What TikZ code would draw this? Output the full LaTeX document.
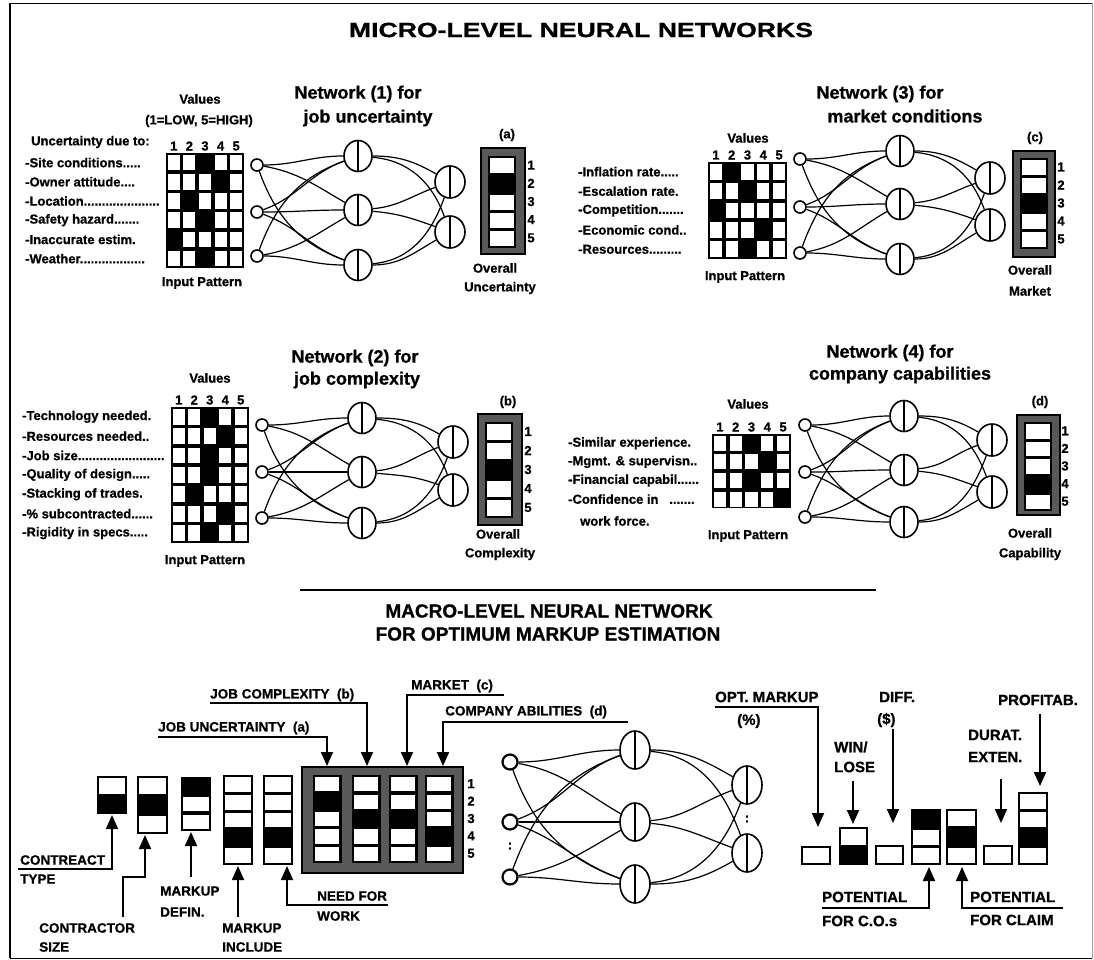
\documentclass[tikz,border=0pt]{standalone}
\usepackage{fontspec}
\setmainfont{Liberation Sans}[BoldFeatures={FakeBold=0.8}]
\usetikzlibrary{shapes.geometric,arrows.meta}

\tikzset{
 hidb/.style={ellipse, draw, line width=1.6pt, inner sep=0pt,
   path picture={\draw[line width=1.7pt] (path picture bounding box.north) -- (path picture bounding box.south);}},
 hid/.style={hidb, minimum width=28pt, minimum height=31pt},
 outn/.style={hidb, minimum width=30pt, minimum height=32pt},
 bhid/.style={hidb, minimum width=30pt, minimum height=38pt},
 inp/.style={circle, draw, line width=1.6pt, minimum size=12pt, inner sep=0pt},
 binp/.style={circle, draw, line width=2.2pt, minimum size=15pt, inner sep=0pt},
 lnk/.style={line width=1.2pt},
 lbl/.style={font=\bfseries\fontsize{13}{15}\selectfont, anchor=west, inner sep=0pt},
 ctr/.style={font=\bfseries\fontsize{13}{15}\selectfont, inner sep=0pt},
 ttl/.style={font=\bfseries\fontsize{18}{21}\selectfont, inner sep=0pt},
 big/.style={font=\bfseries\fontsize{19}{23}\selectfont, inner sep=0pt},
 bl/.style={font=\bfseries\fontsize{13.5}{16}\selectfont, anchor=west, inner sep=0pt},
 br/.style={font=\bfseries\fontsize{15}{17}\selectfont, anchor=west, inner sep=0pt},
 arr/.style={line width=1.8pt, -{Triangle[width=12pt,length=14pt]}},
 frame/.style={fill=black!65, draw=black, line width=1.2pt},
}

% vertical stack of cells: x y width cellheight n {0/1 list}
\newcommand\cellstack[6]{%
  \fill[black] (#1,#2) rectangle ++(#3,#5*#4+1);
  \foreach \cv [count=\ci from 0] in {#6} {%
    \ifnum\cv=0 \fill[white] (#1+2.4,#2+\ci*#4+2.2) rectangle ++(#3-4.8,#4-3.2);\fi
  }%
}
% input pattern grid: prefix x y cw ch {black column per row}
\newcommand\pgrid[6]{%
  \foreach \bk [count=\r from 0] in {#6} {%
    \fill[black] (#2,#3+\r*#5) rectangle ++(5*#4,#5);
    \foreach \c in {1,...,5} {%
      \ifnum\c=\bk\relax\else
        \fill[white] (#2+\c*#4-#4+1.8,#3+\r*#5+1.8) rectangle ++(#4-3.6,#5-3.6);
      \fi
    }%
  }%
  \foreach \c in {1,...,5} {\node[ctr] (#1num\c) at (#2+\c*#4-#4/2,#3-7) {\c};}
}
\newcommand\netlinks[1]{%
 \draw[lnk] (#1i1) to[out=0,in=180] (#1h1);
 \draw[lnk] (#1i1) to[out=-10,in=150] (#1h2);
 \draw[lnk] (#1i1) to[out=-70,in=160] (#1h3);
 \draw[lnk] (#1i2) to[out=20,in=200] (#1h1);
 \draw[lnk] (#1i2) to[out=0,in=180] (#1h2);
 \draw[lnk] (#1i2) to[out=-20,in=160] (#1h3);
 \draw[lnk] (#1i3) to[out=70,in=200] (#1h1);
 \draw[lnk] (#1i3) to[out=10,in=210] (#1h2);
 \draw[lnk] (#1i3) to[out=0,in=180] (#1h3);
 \draw[lnk] (#1h1) to[out=0,in=150] (#1o1);
 \draw[lnk] (#1h1) to[out=-5,in=110] (#1o2);
 \draw[lnk] (#1h2) to[out=5,in=200] (#1o1);
 \draw[lnk] (#1h2) to[out=-5,in=160] (#1o2);
 \draw[lnk] (#1h3) to[out=5,in=250] (#1o1);
 \draw[lnk] (#1h3) to[out=0,in=210] (#1o2);
}

\begin{document}
\begin{tikzpicture}[x=1pt,y=-1pt]
\useasboundingbox (0,0) rectangle (1094,960);
\fill[white] (0,0) rectangle (1094,960);
% frame
\draw[line width=0.8pt] (10,3) -- (1092,3);
\draw[line width=0.6pt, black!40] (1092,3) -- (1092,958);
\draw[line width=1pt] (10,958) -- (1092,958);
\draw[line width=2.2pt] (10,3) -- (10,958);

\node[big] (title) at (581,30) {\scalebox{1.4}[1.08]{MICRO-LEVEL NEURAL NETWORKS}};

%%%%%%%%%%%%%%%% Network 1
\node[ttl] (t1a) at (358,94) {Network (1) for};
\node[ttl] (t1b) at (368,118) {job uncertainty};
\node[ctr] (v1) at (200,99) {Values};
\node[ctr] (v1b) at (199,121) {(1=LOW, 5=HIGH)};
\node[lbl] (u1) at (31,142) {Uncertainty due to:};
\pgrid{a}{166}{153}{15.6}{19.2}{3,4,2,3,1,3}
\node[lbl] (l11) at (25,162.6) {-Site conditions.....};
\node[lbl] (l12) at (25,181.8) {-Owner attitude....};
\node[lbl] (l13) at (25,201) {-Location.....................};
\node[lbl] (l14) at (25,220.2) {-Safety hazard.......};
\node[lbl] (l15) at (25,239.4) {-Inaccurate estim.};
\node[lbl] (l16) at (25,258.6) {-Weather..................};
\node[ctr] (ip1) at (202,283) {Input Pattern};
\node[inp] (ai1) at (257,165) {};
\node[inp] (ai2) at (257,212) {};
\node[inp] (ai3) at (257,256) {};
\node[hid] (ah1) at (358,156) {};
\node[hid] (ah2) at (358,210) {};
\node[hid] (ah3) at (358,265) {};
\node[outn] (ao1) at (450,182) {};
\node[outn] (ao2) at (450,232) {};
\netlinks{a}
\draw[frame] (481,148) rectangle (525,254);
\cellstack{488}{156}{28}{18.2}{5}{0,1,0,0,0}
\foreach \k in {1,...,5} {\node[ctr] (anb\k) at (531,156+\k*18.2-9.1) {\k};}
\node[ctr] (lab-a) at (507,135) {(a)};
\node[ctr] (ov1) at (495,268) {Overall};
\node[ctr] (ov1b) at (500,288) {Uncertainty};

%%%%%%%%%%%%%%%% Network 3
\node[ttl] (t3a) at (880,94) {Network (3) for};
\node[ttl] (t3b) at (905,116) {market conditions};
\node[ctr] (v3) at (748,138) {Values};
\pgrid{c}{708}{162}{15.8}{19.4}{2,3,1,4,3}
\node[lbl] (l31) at (578,171.7) {-Inflation rate.....};
\node[lbl] (l32) at (578,191.1) {-Escalation rate.};
\node[lbl] (l33) at (578,210.5) {-Competition.......};
\node[lbl] (l34) at (578,229.9) {-Economic cond..};
\node[lbl] (l35) at (578,249.3) {-Resources.........};
\node[ctr] (ip3) at (745,277) {Input Pattern};
\node[inp] (ci1) at (800,159) {};
\node[inp] (ci2) at (800,207) {};
\node[inp] (ci3) at (800,253) {};
\node[hid] (ch1) at (900,151) {};
\node[hid] (ch2) at (900,204) {};
\node[hid] (ch3) at (900,259) {};
\node[outn] (co1) at (990,178) {};
\node[outn] (co2) at (990,225) {};
\netlinks{c}
\draw[frame] (1013,151) rectangle (1055,257);
\cellstack{1020}{158}{28}{18}{5}{0,0,1,0,0}
\foreach \k in {1,...,5} {\node[ctr] (cnb\k) at (1061,158+\k*18-9) {\k};}
\node[ctr] (lab-c) at (1035,138) {(c)};
\node[ctr] (ov3) at (1030,270) {Overall};
\node[ctr] (ov3b) at (1030,291) {Market};

%%%%%%%%%%%%%%%% Network 2
\node[ttl] (t2a) at (355,358) {Network (2) for};
\node[ttl] (t2b) at (357,380) {job complexity};
\node[ctr] (v2) at (210,378) {Values};
\pgrid{b}{171}{407}{15.5}{19.4}{3,4,3,3,2,4,3}
\node[lbl] (l21) at (22,416.7) {-Technology needed.};
\node[lbl] (l22) at (22,436.1) {-Resources needed..};
\node[lbl] (l23) at (22,455.5) {-Job size........................};
\node[lbl] (l24) at (22,474.9) {-Quality of design.....};
\node[lbl] (l25) at (22,494.3) {-Stacking of trades.};
\node[lbl] (l26) at (22,513.7) {-\% subcontracted......};
\node[lbl] (l27) at (22,533.1) {-Rigidity in specs.....};
\node[ctr] (ip2) at (205,561) {Input Pattern};
\node[inp] (bi1) at (262,425) {};
\node[inp] (bi2) at (262,472) {};
\node[inp] (bi3) at (262,518) {};
\node[hid] (bh1) at (362,418) {};
\node[hid] (bh2) at (362,472) {};
\node[hid] (bh3) at (362,523) {};
\node[outn] (bo1) at (453,442) {};
\node[outn] (bo2) at (453,490) {};
\netlinks{b}
\draw[frame] (478,414) rectangle (522,525);
\cellstack{485}{422}{28}{19}{5}{0,0,1,0,0}
\foreach \k in {1,...,5} {\node[ctr] (bnb\k) at (528,422+\k*19-9.5) {\k};}
\node[ctr] (lab-b) at (508,402) {(b)};
\node[ctr] (ov2) at (498,534) {Overall};
\node[ctr] (ov2b) at (500,554) {Complexity};

%%%%%%%%%%%%%%%% Network 4
\node[ttl] (t4a) at (890,353) {Network (4) for};
\node[ttl] (t4b) at (900,375) {company capabilities};
\node[ctr] (v4) at (748,404) {Values};
\pgrid{d}{712}{434}{15.8}{18.6}{3,4,3,5}
\node[lbl] (l41) at (568,443.3) {-Similar experience.};
\node[lbl] (l42) at (568,461.9) {-Mgmt. \& supervisn..};
\node[lbl] (l43) at (568,480.5) {-Financial capabil......};
\node[lbl] (l44) at (568,499.1) {-Confidence in \ \ .......};
\node[lbl] (l45) at (580,521) {work force.};
\node[ctr] (ip4) at (748,536) {Input Pattern};
\node[inp] (di1) at (805,425) {};
\node[inp] (di2) at (805,472) {};
\node[inp] (di3) at (805,517) {};
\node[hid] (dh1) at (904,416) {};
\node[hid] (dh2) at (904,470) {};
\node[hid] (dh3) at (904,522) {};
\node[outn] (do1) at (992,440) {};
\node[outn] (do2) at (992,492) {};
\netlinks{d}
\draw[frame] (1017,415) rectangle (1060,515);
\cellstack{1024}{422}{28}{17.6}{5}{0,0,0,1,0}
\foreach \k in {1,...,5} {\node[ctr] (dnb\k) at (1065,422+\k*17.6-8.8) {\k};}
\node[ctr] (lab-d) at (1040,402) {(d)};
\node[ctr] (ov4) at (1030,533) {Overall};
\node[ctr] (ov4b) at (1030,554) {Capability};

%%%%%%%%%%%%%%%% Macro level
\draw[line width=1.2pt] (300,590) -- (876,590);
\node[big] (mt1) at (549,611) {MACRO-LEVEL NEURAL NETWORK};
\node[big] (mt2) at (548,634) {FOR OPTIMUM MARKUP ESTIMATION};

% small input boxes
\cellstack{97}{776}{30}{18.5}{2}{0,1}
\cellstack{137}{776}{31}{19}{3}{0,1,0}
\cellstack{181}{777}{30}{17.7}{3}{1,0,0}
\cellstack{223}{775}{30}{17.8}{5}{0,0,0,1,0}
\cellstack{263}{775}{30}{17.8}{5}{0,0,0,1,0}
\coordinate (bxA) at (112,815);
\coordinate (bxB) at (145,835);
\coordinate (bxC) at (191,832);
\coordinate (bxD) at (238,866);
\coordinate (bxE) at (287,866);

\node[bl] (ctA) at (20,860) {CONTREACT};
\node[bl] (ctA2) at (20,879) {TYPE};
\coordinate (cA) at (18,869);
\draw[arr] (cA) -- (112,869) -- (bxA);
\node[bl] (ctB) at (39,928) {CONTRACTOR};
\node[bl] (ctB2) at (39,947) {SIZE};
\coordinate (cB) at (123,917);
\draw[arr] (cB) -- (123,877) -- (145,877) -- (bxB);
\node[bl] (ctC) at (160,891) {MARKUP};
\node[bl] (ctC2) at (160,912) {DEFIN.};
\coordinate (cC) at (191,877);
\draw[arr] (cC) -- (bxC);
\node[bl] (ctD) at (222,928) {MARKUP};
\node[bl] (ctD2) at (222,947) {INCLUDE};
\coordinate (cD) at (238,917);
\draw[arr] (cD) -- (bxD);
\node[bl] (ctE) at (317,896) {NEED FOR};
\node[bl] (ctE2) at (317,916) {WORK};
\coordinate (cE) at (388,905);
\draw[arr] (cE) -- (287,905) -- (bxE);

% big combined box
\draw[frame] (302,767) rectangle (463,873);
\cellstack{313}{775}{28.5}{17.4}{5}{0,1,0,0,0}
\cellstack{352}{775}{28.5}{17.4}{5}{0,0,1,0,0}
\cellstack{389}{775}{28.5}{17.4}{5}{0,0,1,0,0}
\cellstack{425}{775}{28.5}{17.4}{5}{0,0,0,1,0}
\foreach \k in {1,...,5} {\node[ctr] (mnb\k) at (471,775+\k*17.4-8.7) {\k};}
\coordinate (col1) at (327,766);
\coordinate (col2) at (367,766);
\coordinate (col3) at (407,766);
\coordinate (col4) at (443,766);

\node[bl] (ju) at (158,728) {JOB UNCERTAINTY \ (a)};
\coordinate (cju) at (158,737);
\draw[arr] (cju) -- (327,737) -- (col1);
\node[bl] (jc) at (210,695) {JOB COMPLEXITY \ (b)};
\coordinate (cjc) at (210,703);
\draw[arr] (cjc) -- (367,703) -- (col2);
\node[bl] (mk) at (411,686) {MARKET \ (c)};
\coordinate (cmk) at (504,695);
\draw[arr] (cmk) -- (407,695) -- (col3);
\node[bl] (ca) at (445,712) {COMPANY ABILITIES \ (d)};
\coordinate (cca) at (628,722);
\draw[arr] (cca) -- (443,722) -- (col4);

% macro network
\node[binp] (mi1) at (510,762) {};
\node[binp] (mi2) at (510,822) {};
\node[binp] (mi3) at (510,877) {};
\node[ctr] (mdots1) at (510,846) {:};
\node[bhid] (mh1) at (635,750) {};
\node[bhid] (mh2) at (635,822) {};
\node[bhid] (mh3) at (635,884) {};
\node[bhid] (mo1) at (747,785) {};
\node[bhid] (mo2) at (747,853) {};
\node[ctr] (mdots2) at (747,819) {:};
\netlinks{m}

% output boxes
\cellstack{801}{846}{30}{18}{1}{0}
\cellstack{839}{827}{29}{18.5}{2}{0,1}
\cellstack{875}{845}{29}{19}{1}{0}
\cellstack{911}{809}{30}{18.3}{3}{1,0,0}
\cellstack{946}{809}{31}{18.3}{3}{0,1,0}
\cellstack{983}{845}{30}{19}{1}{0}
\cellstack{1018}{792}{30}{18}{4}{0,0,1,0}
\coordinate (ob1) at (818,827);
\coordinate (ob2) at (853,824);
\coordinate (ob3) at (893,823);
\coordinate (ob4) at (929,867);
\coordinate (ob5) at (962,867);
\coordinate (ob6) at (1001,823);
\coordinate (ob7) at (1040,786);

\node[br] (om) at (715,697) {OPT. MARKUP};
\node[br] (om2) at (737,721) {(\%)};
\coordinate (com) at (715,707);
\draw[arr] (com) -- (818,707) -- (ob1);
\node[br] (wl) at (834,747) {WIN/};
\node[br] (wl2) at (834,767) {LOSE};
\coordinate (cwl) at (853,781);
\draw[arr] (cwl) -- (ob2);
\node[br] (df) at (879,697) {DIFF.};
\node[br] (df2) at (877,720) {(\$)};
\coordinate (cdf) at (893,729);
\draw[arr] (cdf) -- (ob3);
\node[br] (de) at (968,735) {DURAT.};
\node[br] (de2) at (968,757) {EXTEN.};
\coordinate (cde) at (1001,779);
\draw[arr] (cde) -- (ob6);
\node[br] (pf) at (998,700) {PROFITAB.};
\coordinate (cpf) at (1040,714);
\draw[arr] (cpf) -- (ob7);
\node[br] (p1) at (822,897) {POTENTIAL};
\node[br] (p1b) at (822,921) {FOR C.O.s};
\coordinate (cp1) at (822,908);
\draw[arr] (cp1) -- (929,908) -- (ob4);
\node[br] (p2) at (970,897) {POTENTIAL};
\node[br] (p2b) at (970,920) {FOR CLAIM};
\coordinate (cp2) at (1063,908);
\draw[arr] (cp2) -- (962,908) -- (ob5);
\end{tikzpicture}
\end{document}
